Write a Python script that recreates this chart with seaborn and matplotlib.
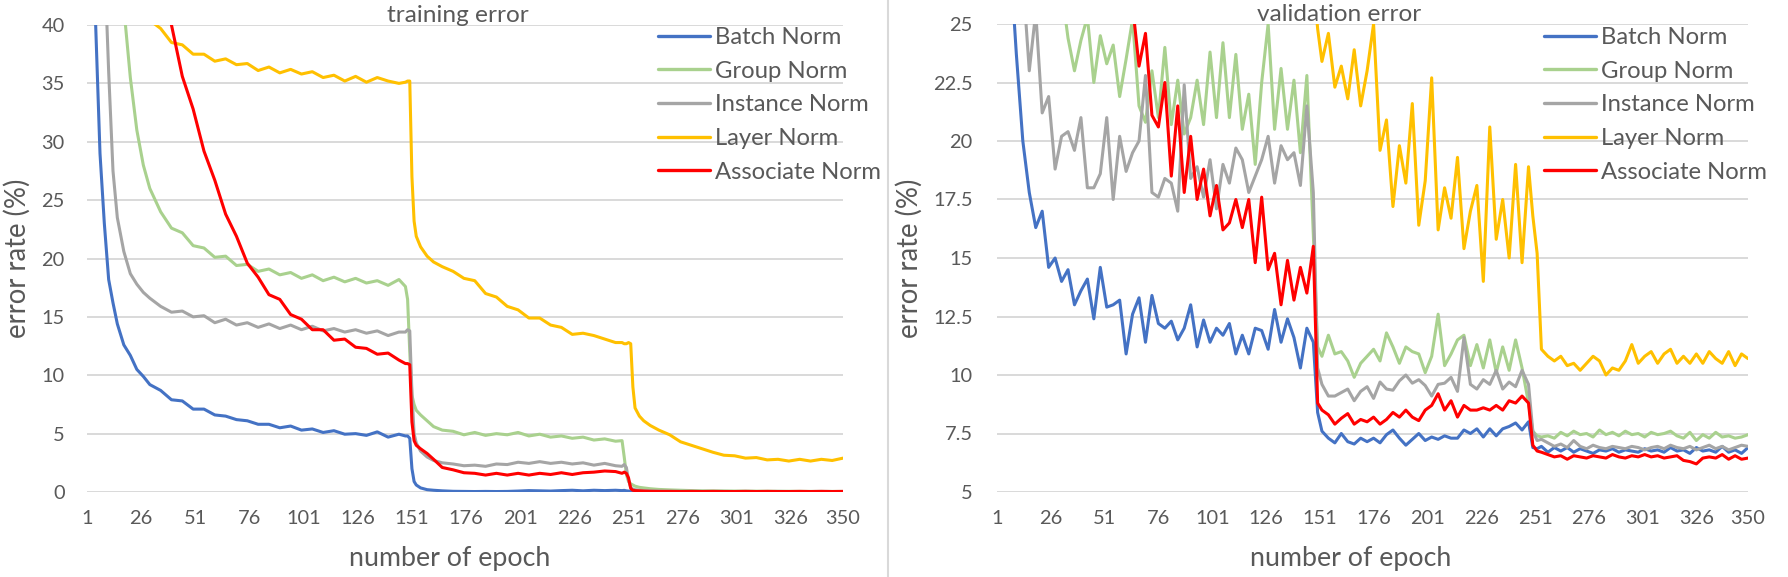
import numpy as np
import pandas as pd
import matplotlib.pyplot as plt
from matplotlib.lines import Line2D
from matplotlib.textpath import TextPath
from matplotlib.font_manager import FontProperties
import seaborn as sns

nan = np.nan

methods = ['Batch Norm', 'Group Norm', 'Instance Norm', 'Layer Norm', 'Associate Norm']
colors = ['#4472C4', '#A9D18E', '#A5A5A5', '#FFC000', '#FF0000']
x_ticks = [1, 26, 51, 76, 101, 126, 151, 176, 201, 226, 251, 276, 301, 326, 350]

# ---- training error ----
train_epochs = ([1, 3, 5, 7, 9, 11, 13, 15, 18, 21, 24, 27, 30]
                + list(range(35, 150, 5))
                + [148, 149, 150, 151, 152, 153, 155, 158, 161, 165]
                + list(range(170, 250, 5))
                + [248, 249, 250, 251, 252, 253, 254, 256, 258, 261, 265]
                + list(range(270, 351, 5)))

train_bn = [nan, 52, 40, 29, 23, 18.2, 16.2, 14.4, 12.6, 11.7, 10.5, 9.9, 9.2,
            8.7, 7.9, 7.8, 7.1, 7.1, 6.6, 6.5, 6.2, 6.1, 5.8, 5.8, 5.5, 5.65, 5.3, 5.4, 5.1, 5.25, 4.95, 5.0, 4.85, 5.15, 4.7, 4.95,
            4.8, 4.8, 4.6, 2.0, 0.9, 0.6, 0.35, 0.2, 0.15, 0.1,
            0.06, 0.05, 0.04, 0.05, 0.04, 0.05, 0.08, 0.12, 0.1, 0.08, 0.12, 0.15, 0.1, 0.15, 0.12, 0.15,
            0.12, 0.14, 0.1, 0.08, 0.06, 0.05, 0.05, 0.04, 0.03, 0.03, 0.02,
            0.02, 0.03, 0.02, 0.02, 0.03, 0.02, 0.02, 0.03, 0.02, 0.02, 0.03, 0.02, 0.02, 0.03, 0.02, 0.02, 0.03]

train_gn = [nan, nan, nan, nan, nan, nan, nan, 48, 41.5, 35.5, 31.0, 28.0, 26.0,
            24.0, 22.6, 22.2, 21.1, 20.9, 20.1, 20.2, 19.4, 19.5, 18.9, 19.1, 18.6, 18.8, 18.3, 18.6, 18.1, 18.4, 18.0, 18.3, 17.9, 18.1, 17.7, 18.2,
            17.6, 16.5, 12.0, 8.3, 7.5, 7.0, 6.6, 6.1, 5.6, 5.3,
            5.2, 4.9, 5.1, 4.85, 5.0, 4.9, 5.1, 4.8, 4.95, 4.7, 4.8, 4.6, 4.7, 4.45, 4.55, 4.35,
            4.4, 3.0, 1.5, 0.9, 0.7, 0.6, 0.5, 0.4, 0.35, 0.28, 0.22,
            0.18, 0.15, 0.12, 0.1, 0.1, 0.09, 0.08, 0.08, 0.07, 0.07, 0.06, 0.06, 0.06, 0.05, 0.05, 0.05, 0.05]

train_in = [nan, nan, nan, nan, 46, 36, 27.5, 23.5, 20.6, 18.7, 17.8, 17.1, 16.6,
            15.9, 15.4, 15.5, 15.0, 15.1, 14.5, 14.8, 14.3, 14.5, 14.1, 14.4, 14.0, 14.3, 13.9, 14.2, 13.8, 14.0, 13.7, 13.9, 13.6, 13.8, 13.4, 13.7,
            13.7, 13.9, 13.8, 8.5, 5.0, 4.2, 3.5, 3.0, 2.7, 2.5,
            2.4, 2.25, 2.3, 2.2, 2.4, 2.35, 2.55, 2.45, 2.6, 2.45, 2.55, 2.4, 2.5, 2.3, 2.45, 2.25,
            2.2, 2.35, 2.1, 1.0, 0.4, 0.25, 0.2, 0.15, 0.12, 0.1, 0.08,
            0.07, 0.06, 0.06, 0.05, 0.05, 0.05, 0.04, 0.05, 0.04, 0.04, 0.05, 0.04, 0.04, 0.04, 0.05, 0.04, 0.04]

train_ln = [nan, nan, nan, nan, nan, nan, nan, nan, nan, nan, nan, 41.6, 40.4,
            39.7, 38.5, 38.3, 37.5, 37.5, 36.9, 37.1, 36.6, 36.7, 36.1, 36.4, 35.9, 36.2, 35.8, 36.0, 35.5, 35.7, 35.2, 35.6, 35.1, 35.5, 35.2, 35.0,
            35.1, 35.2, 35.2, 27.0, 23.2, 21.9, 21.0, 20.2, 19.7, 19.3,
            18.9, 18.3, 18.1, 17.0, 16.7, 15.9, 15.6, 14.9, 14.9, 14.3, 14.1, 13.5, 13.6, 13.4, 13.1, 12.8,
            12.8, 12.7, 12.7, 12.8, 12.7, 9.0, 7.2, 6.5, 6.1, 5.7, 5.3,
            4.9, 4.3, 4.0, 3.7, 3.4, 3.15, 3.1, 2.9, 2.95, 2.75, 2.8, 2.65, 2.8, 2.65, 2.8, 2.7, 2.9]

train_an = [nan, nan, nan, nan, nan, nan, nan, nan, nan, nan, nan, nan, nan,
            42.5, 40.0, 35.6, 32.8, 29.2, 26.7, 23.8, 21.9, 19.6, 18.4, 16.9, 16.5, 15.2, 14.8, 13.9, 13.9, 13.0, 13.1, 12.4, 12.3, 11.8, 11.9, 11.3,
            11.0, 11.0, 10.9, 6.0, 4.4, 4.0, 3.7, 3.3, 2.8, 2.1,
            1.9, 1.65, 1.6, 1.45, 1.6, 1.45, 1.6, 1.45, 1.6, 1.5, 1.65, 1.5, 1.65, 1.7, 1.8, 1.75,
            1.6, 1.7, 1.6, 1.2, 0.3, 0.15, 0.12, 0.1, 0.08, 0.06, 0.05,
            0.05, 0.04, 0.05, 0.04, 0.05, 0.04, 0.04, 0.05, 0.04, 0.05, 0.04, 0.04, 0.05, 0.04, 0.05, 0.04, 0.05]

# ---- validation error ----
val_epochs = (list(range(1, 149, 3)) + [150, 152] + list(range(155, 249, 3))
              + [250, 252, 254] + list(range(257, 351, 3)))

val_bn = [nan, nan, 28.0, 23.7, 20.0, 17.8, 16.3, 17.0, 14.6, 15.0, 14.0, 14.5, 13.0, 13.6, 14.1, 12.4, 14.6, 12.9, 13.0, 13.2,
          10.9, 12.6, 13.3, 11.4, 13.4, 12.2, 12.0, 12.3, 11.5, 12.0, 13.0, 11.2, 12.35, 11.4, 12.0, 11.7, 12.2, 10.9, 11.7, 10.9,
          12.0, 11.9, 11.1, 12.8, 11.4, 12.4, 11.6, 10.3, 12.0, 11.4,
          8.4, 7.6,
          7.3, 7.1, 7.5, 7.15, 7.05, 7.3, 7.15, 7.3, 7.1, 7.45, 7.65, 7.3, 7.0, 7.25, 7.5, 7.2,
          7.35, 7.25, 7.4, 7.3, 7.3, 7.65, 7.5, 7.7, 7.35, 7.7, 7.4, 7.7, 7.8, 7.95, 7.65, 8.0,
          6.9, 6.85, 6.95,
          6.7, 6.9, 6.75, 6.9, 6.7, 6.85, 6.75, 6.65, 6.8, 6.75, 6.85, 6.7, 6.8, 6.75, 6.7, 6.85,
          6.75, 6.8, 6.7, 6.9, 6.75, 6.8, 6.65, 6.9, 6.75, 6.8, 6.7, 6.95, 6.7, 6.8, 6.65, 6.9]

val_gn = [nan, nan, nan, nan, nan, nan, nan, nan, nan, nan, 26.5, 24.4, 23.0, 24.3, 25.3, 22.5, 24.5, 23.3, 24.1, 21.9,
          23.5, 25.2, 21.5, 20.8, 23.0, 21.0, 24.0, 20.7, 22.6, 20.3, 21.0, 22.6, 20.7, 23.8, 21.0, 24.2, 21.0, 23.7, 20.5, 22.0,
          19.0, 22.5, 25.0, 20.5, 23.1, 20.5, 22.6, 19.5, 22.8, 16.0,
          11.2, 10.8,
          11.7, 10.9, 11.0, 10.6, 9.9, 10.5, 10.8, 11.1, 10.6, 11.8, 11.2, 10.5, 11.2, 11.0, 10.9, 10.1,
          10.8, 12.6, 10.4, 10.9, 11.5, 11.7, 10.4, 11.3, 10.3, 11.5, 10.1, 11.2, 10.2, 11.5, 10.3, 8.8,
          7.6, 7.4, 7.35,
          7.4, 7.3, 7.55, 7.4, 7.6, 7.45, 7.5, 7.35, 7.65, 7.45, 7.55, 7.4, 7.6, 7.45, 7.5, 7.35,
          7.55, 7.45, 7.5, 7.6, 7.4, 7.3, 7.55, 7.2, 7.45, 7.3, 7.55, 7.35, 7.4, 7.3, 7.35, 7.45]

val_in = [nan, nan, nan, nan, 27.0, 23.0, 25.5, 21.2, 21.9, 18.8, 20.2, 20.4, 19.6, 21.0, 18.0, 18.0, 18.6, 21.0, 17.5, 20.2,
          18.7, 19.5, 20.0, 22.8, 17.8, 17.6, 18.4, 18.2, 17.0, 22.4, 18.4, 18.9, 17.6, 19.2, 17.1, 19.0, 18.2, 19.7, 19.2, 17.8,
          18.5, 19.2, 20.2, 18.2, 19.8, 19.2, 19.5, 18.1, 21.5, 17.8,
          10.3, 9.6,
          9.1, 9.1, 9.25, 9.4, 8.9, 9.3, 9.5, 9.0, 9.7, 9.4, 9.35, 9.75, 10.0, 9.65, 9.8, 9.55,
          9.1, 9.6, 9.65, 9.9, 9.3, 11.6, 9.6, 9.4, 9.8, 9.6, 10.2, 9.4, 9.7, 9.5, 10.2, 9.6,
          7.6, 7.2, 7.25,
          7.1, 6.95, 7.05, 6.9, 7.2, 6.95, 6.85, 7.0, 6.9, 6.85, 6.95, 6.9, 6.85, 6.95, 6.9, 6.8,
          6.9, 6.95, 6.85, 7.0, 6.9, 6.85, 6.95, 6.8, 6.9, 7.0, 6.85, 6.95, 6.8, 6.9, 7.0, 6.95]

val_ln = [nan] * 49 + [27.0] + [
          24.8, 23.4,
          24.6, 22.3, 23.2, 21.8, 23.9, 21.5, 23.0, 25.0, 19.6, 20.9, 17.2, 19.8, 18.2, 21.6, 16.4, 18.3,
          22.7, 16.2, 18.0, 16.7, 19.3, 15.4, 17.0, 18.1, 14.0, 20.6, 15.8, 17.5, 15.0, 19.0, 14.8, 18.9,
          16.8, 15.2, 11.1,
          10.8, 10.6, 10.8, 10.4, 10.5, 10.2, 10.5, 10.8, 10.6, 10.0, 10.3, 10.2, 10.6, 11.3, 10.5, 10.8,
          11.0, 10.5, 10.9, 11.1, 10.5, 10.8, 10.5, 10.9, 10.5, 11.0, 10.7, 10.5, 11.0, 10.4, 10.9, 10.7]

val_an = [nan] * 20 + [
          27.0, 25.8, 23.2, 24.6, 21.1, 20.6, 22.5, 18.5, 21.5, 17.8, 20.2, 17.5, 18.8, 16.8, 18.1,
          16.2, 16.5, 17.5, 16.3, 17.5, 14.8, 17.6, 14.5, 15.2, 13.0, 14.9, 13.2, 14.6, 13.5, 15.5,
          8.8, 8.5,
          8.3, 7.9, 8.15, 8.35, 7.9, 8.1, 8.0, 8.2, 7.9, 8.1, 8.4, 8.2, 8.5, 8.2, 8.05, 8.5,
          8.7, 9.2, 8.5, 8.9, 8.2, 8.7, 8.5, 8.5, 8.6, 8.5, 8.7, 8.5, 8.9, 8.8, 9.1, 8.8,
          7.0, 6.75, 6.7,
          6.6, 6.5, 6.55, 6.4, 6.55, 6.5, 6.45, 6.55, 6.5, 6.45, 6.6, 6.5, 6.45, 6.55, 6.5, 6.6,
          6.5, 6.55, 6.45, 6.5, 6.55, 6.35, 6.3, 6.2, 6.45, 6.5, 6.45, 6.6, 6.4, 6.55, 6.4, 6.45]


def to_long(epochs, series):
    frames = []
    for name, vals in zip(methods, series):
        assert len(vals) == len(epochs), (name, len(vals), len(epochs))
        frames.append(pd.DataFrame({'epoch': epochs, 'error': vals, 'method': name}))
    return pd.concat(frames, ignore_index=True)


df_train = to_long(train_epochs, [train_bn, train_gn, train_in, train_ln, train_an])
df_val = to_long(val_epochs, [val_bn, val_gn, val_in, val_ln, val_an])

sns.set_style('white')
FONT = 'Lato'
plt.rcParams['font.family'] = [FONT, 'DejaVu Sans']
TXT = '#595959'
GRID = '#D9D9D9'
palette = dict(zip(methods, colors))
DPI = 100


def size_for(text, width_px):
    # font size (pt) at which the ink of `text` is width_px wide
    w = TextPath((0, 0), text, size=72, prop=FontProperties(family=FONT)).get_extents().width
    return width_px * 72 * 72 / (w * DPI)


fs_title = (size_for('training error', 141) + size_for('validation error', 162)) / 2
fs_xlab = size_for('number of epoch', 197)
fs_ylab = size_for('error rate (%)', 157)
fs_tick = (size_for('22.5', 40) + size_for('350', 31)) / 2
fs_leg = size_for('Associate Norm', 165)

fig = plt.figure(figsize=(17.88, 5.77), dpi=DPI)
W, H = 1788, 577
ax1 = fig.add_axes([87 / W, 1 - 492 / H, 756 / W, 467 / H])
ax2 = fig.add_axes([997 / W, 1 - 492 / H, 751 / W, 468 / H])

panels = [
    (ax1, df_train, (0, 40), np.arange(0, 41, 5), 'training error', 0.49, 16,
     -0.074, 0.48, 658),
    (ax2, df_val, (5, 25), np.arange(5, 25.1, 2.5), 'validation error', 0.455, 17.5,
     -0.0985, 0.471, 1544),
]

for ax, df, ylim, yticks, title, tx, ypad, ylab_x, xlab_x, leg_x in panels:
    sns.lineplot(data=df, x='epoch', y='error', hue='method', hue_order=methods,
                 palette=palette, estimator=None, linewidth=2.2, legend=False, ax=ax)
    ax.set_xlim(1, 350)
    ax.set_ylim(*ylim)
    ax.set_xticks(x_ticks)
    ax.set_yticks(yticks)
    ax.set_yticklabels([f'{v:g}' for v in yticks])
    ax.grid(axis='y', color=GRID, linewidth=1.4)
    ax.grid(axis='x', visible=False)
    ax.set_axisbelow(True)
    for s in ax.spines.values():
        s.set_visible(False)
    ax.tick_params(axis='both', length=0, labelsize=fs_tick, labelcolor=TXT)
    ax.tick_params(axis='y', pad=ypad)
    ax.tick_params(axis='x', pad=13)

    ax.text(tx, 1.007, title, transform=ax.transAxes, ha='center', va='baseline',
            fontsize=fs_title, color=TXT)
    ax.set_xlabel('number of epoch', fontsize=fs_xlab, color=TXT)
    ax.set_ylabel('error rate (%)', fontsize=fs_ylab, color=TXT)
    ax.xaxis.set_label_coords(xlab_x, -0.116)
    ax.yaxis.set_label_coords(ylab_x, 0.5)

    handles = [Line2D([], [], color=c, linewidth=2.4) for c in colors]
    ax.legend(handles, methods, loc='upper left', bbox_to_anchor=(leg_x / W, 1 - 27 / H),
              bbox_transform=fig.transFigure, frameon=False, fontsize=fs_leg,
              labelcolor=TXT, borderpad=0, borderaxespad=0, handlelength=2.2,
              handletextpad=0.2, labelspacing=0.53)

fig.add_artist(Line2D([888 / W, 888 / W], [0, 1], transform=fig.transFigure,
                      color=GRID, linewidth=1.5))

fig.savefig('out.png', dpi=DPI)
